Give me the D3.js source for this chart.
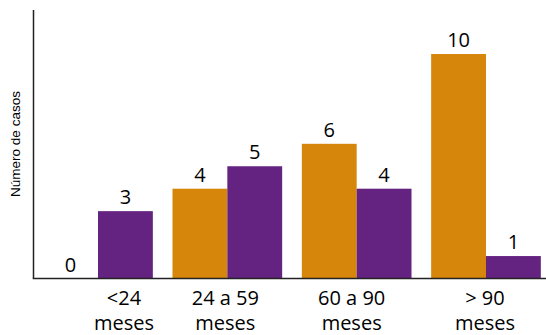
<!DOCTYPE html>
<html>
<head>
<meta charset="utf-8">
<script src="https://cdn.jsdelivr.net/npm/d3@7"></script>
<style>
  body { margin: 0; background: #fff; }
  text { font-family: "Open Sans", sans-serif; }
</style>
</head>
<body>
<svg id="chart" width="546" height="335"></svg>
<script>
const categories = ["<24|meses", "24 a 59|meses", "60 a 90|meses", "> 90|meses"];
const seriesA = [0, 4, 6, 10];
const seriesB = [3, 5, 4, 1];
const colors = ["#d6860a", "#652381"];
const yLabel = "Número de casos";

const width = 546;
const height = 335;
const svg = d3.select("#chart");

const axisX = 33.5;
const baseY = 278.5;
// small nudges of the category labels, as in the original layout
const labelShift = [26, -2, -5, -1];

const x0 = d3.scaleBand()
  .domain(categories)
  .range([38, 546])
  .paddingInner(0.152)
  .paddingOuter(0.04);

const x1 = d3.scaleBand()
  .domain([0, 1])
  .range([0, x0.bandwidth()]);

const y = d3.scaleLinear()
  .domain([0, 10])
  .range([baseY, 54]);

const data = categories.map((c, i) => ({ cat: c, values: [seriesA[i], seriesB[i]] }));

const groups = svg.selectAll("g.grp")
  .data(data)
  .enter()
  .append("g")
  .attr("class", "grp")
  .attr("transform", d => `translate(${x0(d.cat)},0)`);

groups.selectAll("rect")
  .data(d => d.values.map((v, k) => ({ v, k })))
  .enter()
  .append("rect")
  .attr("x", d => x1(d.k))
  .attr("width", x1.bandwidth())
  .attr("y", d => y(d.v))
  .attr("height", d => baseY - y(d.v))
  .attr("fill", d => colors[d.k]);

// value labels
groups.selectAll("text.val")
  .data(d => d.values.map((v, k) => ({ v, k })))
  .enter()
  .append("text")
  .attr("class", "val")
  .attr("x", d => x1(d.k) + x1.bandwidth() / 2)
  .attr("y", d => y(d.v) - 7)
  .attr("text-anchor", "middle")
  .attr("font-size", 20)
  .attr("fill", "#000")
  .text(d => d.v);

// category labels (two lines)
const xAxisG = svg.append("g");
categories.forEach((c, i) => {
  const lines = c.split("|");
  const cx = x0(c) + x0.bandwidth() / 2 + labelShift[i];
  const t = xAxisG.append("text")
    .attr("x", cx)
    .attr("y", 305)
    .attr("text-anchor", "middle")
    .attr("font-size", 20)
    .attr("fill", "#000");
  lines.forEach((l, j) => {
    t.append("tspan")
      .attr("x", cx)
      .attr("dy", j === 0 ? 0 : 25)
      .text(l);
  });
});

// axes lines
svg.append("line")
  .attr("x1", axisX).attr("x2", axisX)
  .attr("y1", 10).attr("y2", baseY)
  .attr("stroke", "#222").attr("stroke-width", 1.5);
svg.append("line")
  .attr("x1", axisX - 0.75).attr("x2", width)
  .attr("y1", baseY).attr("y2", baseY)
  .attr("stroke", "#222").attr("stroke-width", 1.5);

svg.append("text")
  .attr("transform", `translate(20,144) rotate(-90)`)
  .attr("text-anchor", "middle")
  .style("font-family", "'Liberation Sans', Arial, sans-serif")
  .attr("font-size", 13.5)
  .attr("fill", "#000")
  .text(yLabel);
</script>
</body>
</html>
